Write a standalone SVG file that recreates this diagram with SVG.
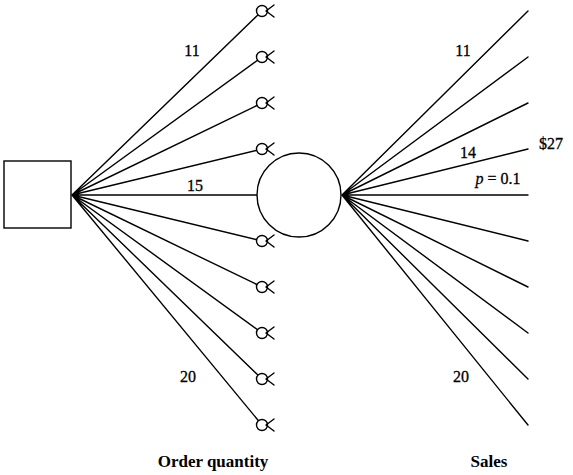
<svg xmlns="http://www.w3.org/2000/svg" width="573" height="475" viewBox="0 0 573 475">
<defs>
<style>
.ln{stroke:#000;stroke-width:1.4;fill:none;stroke-linecap:round}
.nd{stroke:#000;stroke-width:1.4;fill:#fff}
.t{font-family:"Liberation Serif",serif;font-size:16px;fill:#000;stroke:#000;stroke-width:0.3}
.b{font-family:"Liberation Serif",serif;font-size:17px;font-weight:bold;fill:#000}
</style>
<g id="endmark">
<circle cx="0" cy="0" r="5.5" class="nd"/>
<path d="M4 0 L12 -6 M4 0 L12 6" class="ln"/>
</g>
</defs>
<g id="connectors">
<path class="ln" d="M72 195 L262 11 M72 195 L262 57 M72 195 L262 103 M72 195 L262 149 M72 195 L257 195 M72 195 L262 241 M72 195 L262 287 M72 195 L262 333 M72 195 L262 379 M72 195 L262 425"/>
<path class="ln" d="M342 195 L528 11 M342 195 L528 57 M342 195 L528 103 M342 195 L528 149 M342 195 L528 195 M342 195 L528 241 M342 195 L528 287 M342 195 L528 333 M342 195 L528 379 M342 195 L528 425"/>
</g>
<g id="decision"><rect x="4" y="161" width="67" height="67" class="nd"/></g>
<g id="chance"><circle cx="299" cy="195" r="42" class="nd"/></g>
<g id="ends">
<use href="#endmark" x="262" y="11"/>
<use href="#endmark" x="262" y="57"/>
<use href="#endmark" x="262" y="103"/>
<use href="#endmark" x="262" y="149"/>
<use href="#endmark" x="262" y="241"/>
<use href="#endmark" x="262" y="287"/>
<use href="#endmark" x="262" y="333"/>
<use href="#endmark" x="262" y="379"/>
<use href="#endmark" x="262" y="425"/>
</g>
<g id="labels">
<text class="t" x="192" y="56" text-anchor="middle">11</text>
<text class="t" x="195" y="191" text-anchor="middle">15</text>
<text class="t" x="188" y="382" text-anchor="middle">20</text>
<text class="t" x="463" y="56" text-anchor="middle">11</text>
<text class="t" x="468" y="158" text-anchor="middle">14</text>
<text class="t" x="551" y="149" text-anchor="middle">$27</text>
<text class="t" x="498" y="184" text-anchor="middle"><tspan font-style="italic">p</tspan> = 0.1</text>
<text class="t" x="461" y="382" text-anchor="middle">20</text>
<text class="b" x="213" y="467" text-anchor="middle">Order quantity</text>
<text class="b" x="489" y="467" text-anchor="middle">Sales</text>
</g>
</svg>
